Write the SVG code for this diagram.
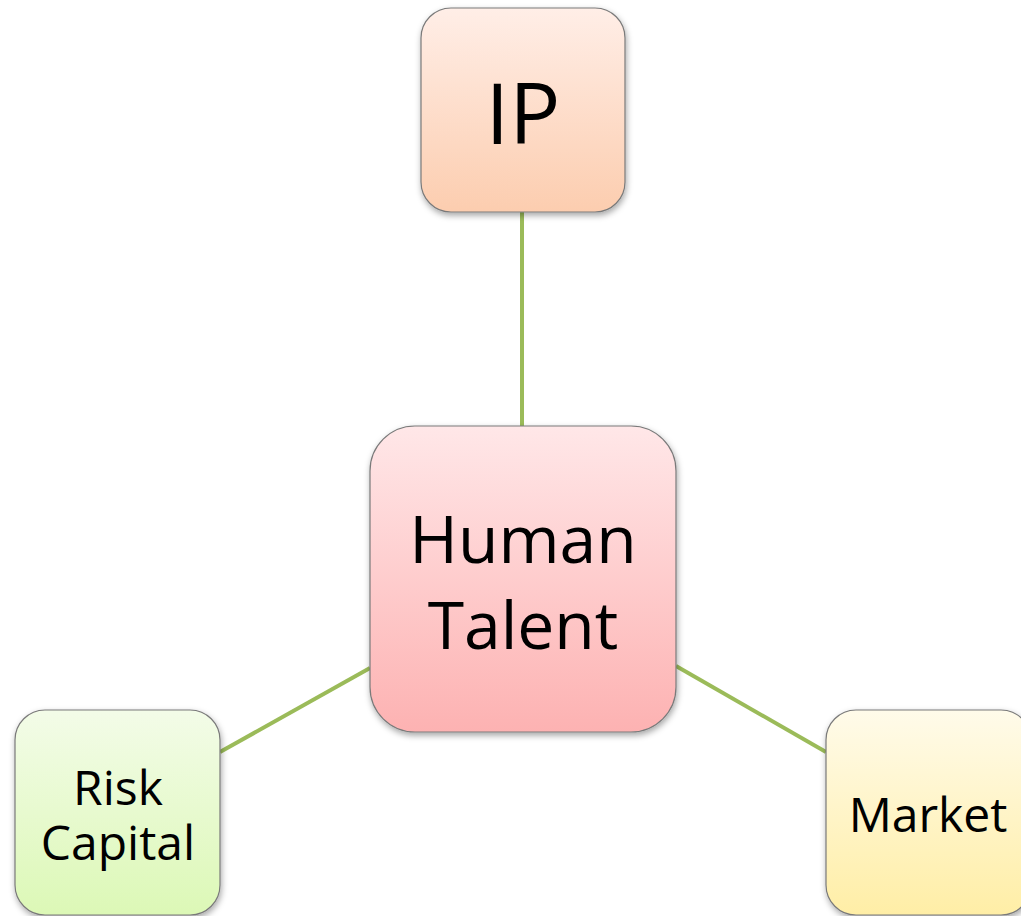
<svg xmlns="http://www.w3.org/2000/svg" width="1021" height="916" viewBox="0 0 1021 916">
<style>
.box{stroke:#7a7a7a;stroke-width:1.2;filter:url(#sh)}
.lbl{font-family:"Open Sans","Liberation Sans",sans-serif;fill:#000;text-anchor:middle}
.conn{stroke:#9BBB59;stroke-width:4;fill:none}
</style>
<defs>
<filter id="sh" x="-10%" y="-10%" width="125%" height="125%">
<feDropShadow dx="1" dy="3" stdDeviation="3" flood-color="#000" flood-opacity="0.35"/>
</filter>
<linearGradient id="gIP" x1="0" y1="0" x2="0" y2="1"><stop offset="0" stop-color="#FFEEE7"/><stop offset="1" stop-color="#FCCDAF"/></linearGradient>
<linearGradient id="gHT" x1="0" y1="0" x2="0" y2="1"><stop offset="0" stop-color="#FFE7E8"/><stop offset="1" stop-color="#FDB2B2"/></linearGradient>
<linearGradient id="gRC" x1="0" y1="0" x2="0" y2="1"><stop offset="0" stop-color="#F3FCE8"/><stop offset="1" stop-color="#DCF8B6"/></linearGradient>
<linearGradient id="gMK" x1="0" y1="0" x2="0" y2="1"><stop offset="0" stop-color="#FFFBEA"/><stop offset="1" stop-color="#FFEEA6"/></linearGradient>
</defs>
<rect width="1021" height="916" fill="#fff"/>
<g id="connectors">
<line class="conn" x1="522" y1="212" x2="522" y2="426"/>
<line class="conn" x1="370" y1="668" x2="220" y2="752"/>
<line class="conn" x1="676" y1="666" x2="826" y2="752"/>
</g>
<g id="node-ip">
<rect class="box" x="421" y="8" width="204" height="204" rx="30" fill="url(#gIP)"/>
<text class="lbl" x="523" y="144" font-size="85">IP</text>
</g>
<g id="node-human-talent">
<rect class="box" x="370" y="426" width="306" height="306" rx="45" fill="url(#gHT)"/>
<text class="lbl" x="523" y="563" font-size="66">Human</text>
<text class="lbl" x="523" y="649" font-size="66">Talent</text>
</g>
<g id="node-risk-capital">
<rect class="box" x="15" y="710" width="205" height="205" rx="30" fill="url(#gRC)"/>
<text class="lbl" x="118" y="805" font-size="48">Risk</text>
<text class="lbl" x="118" y="860" font-size="48">Capital</text>
</g>
<g id="node-market">
<rect class="box" x="826" y="710" width="205" height="205" rx="30" fill="url(#gMK)"/>
<text class="lbl" x="928" y="832" font-size="48">Market</text>
</g>
</svg>
